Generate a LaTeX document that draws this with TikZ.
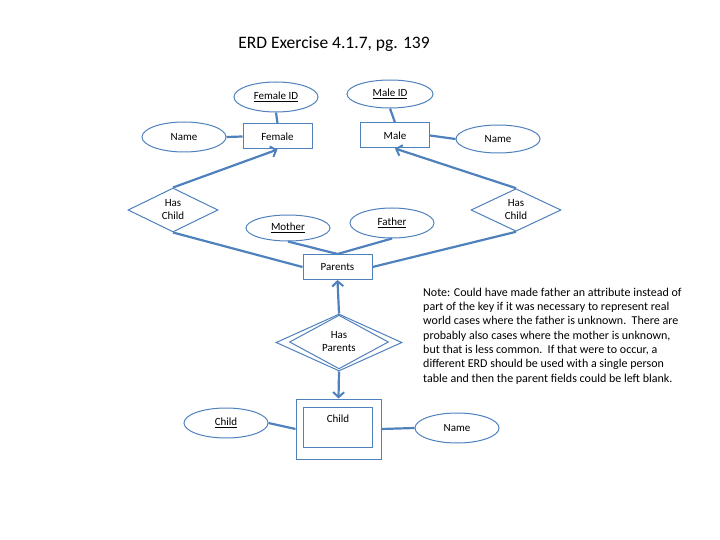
\documentclass[tikz,border=0pt]{standalone}
\usepackage{fontspec}
\setmainfont{Carlito}
\usetikzlibrary{shapes.geometric,arrows.meta}
\definecolor{erdblue}{RGB}{79,129,189}
\tikzset{
  entity/.style={draw=erdblue, line width=1pt, fill=white, rectangle, minimum width=69pt, minimum height=25pt, inner sep=0pt, font=\fontsize{11}{13}\selectfont},
  attr/.style={draw=erdblue, line width=1pt, fill=white, ellipse, minimum width=84pt, minimum height=30pt, inner sep=0pt, font=\fontsize{11}{13}\selectfont},
  rel/.style={draw=erdblue, line width=1pt, fill=white, diamond, minimum width=90pt, minimum height=44pt, inner sep=0pt, font=\fontsize{11}{13}\selectfont, align=center},
  conn/.style={draw=erdblue, line width=2.2pt},
  arr/.style={conn, -{Straight Barb[length=5pt,width=11pt,line width=2pt]}},
  plain/.style={inner sep=0pt, font=\fontsize{11}{13}\selectfont}
}
\begin{document}
\begin{tikzpicture}[x=1pt,y=-1pt]
\useasboundingbox (0,0) rectangle (720,540);
\node[inner sep=0pt, font=\fontsize{17.5}{21}\selectfont] (title) at (334,44) {ERD Exercise 4.1.7, pg. 139};

% entities
\node[entity] (female) at (277.5,136.5) {Female};
\node[entity] (male) at (395,135.5) {Male};
\node[entity] (parents) at (337.5,267) {Parents};

% attributes
\node[attr] (femaleid) at (276,97) {\underline{Female ID}};
\node[attr] (fname) at (184,137) {Name};
\node[attr, minimum width=86pt, minimum height=28pt] (maleid) at (390,94) {\underline{Male ID}};
\node[attr, minimum height=28pt] (mname) at (498,139) {Name};
\node[attr, minimum height=26pt] (mother) at (288,228) {\underline{Mother}};
\node[attr] (father) at (392,223) {\underline{Father}};

% relationships
\node[rel] (hcl) at (173,210) {Has\\Child};
\node[rel, minimum height=40pt] (hcr) at (516,210) {Has\\Child};
\node[rel, minimum width=126pt, minimum height=57pt] (hp) at (339,342.5) {};
\node[rel, minimum width=99pt, minimum height=44pt] (hpin) at (339,342) {Has\\Parents};

% weak entity Child
\node[entity, minimum width=85pt, minimum height=60pt] (child) at (338.5,429) {};
\node[entity, minimum width=69pt, minimum height=40pt] (childin) at (337.5,427) {};
\node[plain] (childlbl) at (338,419) {Child};

\node[attr] (childkey) at (226,423) {\underline{Child}};
\node[attr] (cname) at (457,428) {Name};

% connectors
\draw[conn] (femaleid.south) -- (female.north);
\draw[conn] (fname.east) -- (female.west);
\draw[conn] (maleid.south) -- (male.north);
\draw[conn] (male.east) -- (mname.west);
\draw[arr] (hcl.north) -- (female.south);
\draw[conn] (hcl.south) -- (parents.west);
\draw[arr] (hcr.north) -- (male.south);
\draw[conn] (hcr.south) -- (parents.east);
\draw[conn] (mother.south) -- (parents.north);
\draw[conn] (father.south) -- (parents.north);
\draw[arr] (hp.north) -- (parents.south);
\draw[arr] (hp.south) -- (child.north);
\draw[conn] (childkey.east) -- (child.west);
\draw[conn] (child.east) -- (cname.west);

% note
\node[anchor=north west, inner sep=0pt, align=left, font=\fontsize{12}{14.35}\selectfont] (note) at (423,287.5) {Note: Could have made father an attribute instead of\\
part of the key if it was necessary to represent real\\
world cases where the father is unknown.\ \ There are\\
probably also cases where the mother is unknown,\\
but that is less common.\ \ If that were to occur, a\\
different ERD should be used with a single person\\
table and then the parent fields could be left blank.};
\end{tikzpicture}
\end{document}
